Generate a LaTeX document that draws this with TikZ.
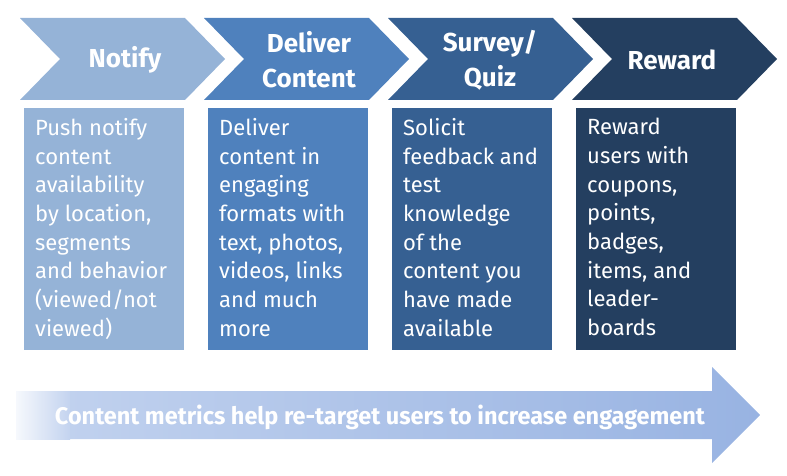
\documentclass[tikz,border=0pt]{standalone}
\usepackage{fontspec}
\setmainfont{Fira Sans}
\definecolor{cA}{HTML}{95B3D7}
\definecolor{cB}{HTML}{4F81BD}
\definecolor{cC}{HTML}{366092}
\definecolor{cD}{HTML}{243F60}
\definecolor{arL}{HTML}{C3D3EF}
\definecolor{arR}{HTML}{98B3E2}
\begin{document}
\begin{tikzpicture}[x=1pt,y=-1pt,
  head/.style={text=white,font=\bfseries\fontsize{26}{35}\selectfont,align=center,inner sep=0pt},
  body/.style={text=white,font=\fontsize{22}{28.7}\selectfont,align=left,anchor=north west,inner sep=0pt},
  chev/.style={fill=#1},
  boxfill/.style={fill=#1}]
\useasboundingbox (0,0) rectangle (787,476);
\foreach \i/\c in {0/cA,1/cB,2/cC,3/cD}{
  \pgfmathsetmacro\L{20+184*\i}
  \path[chev=\c] (\L,18) -- (\L+165,18) -- (\L+205,59) -- (\L+165,100) -- (\L,100) -- (\L+40,59) -- cycle;
  \path[boxfill=\c] (\L+4,108) rectangle (\L+164,350);
}
% headers
\node[head] (h1) at (125,60) {Notify};
\node[head] (h2) at (309,60) {Deliver\\Content};
\node[head] (h3) at (490,60) {Survey/\\Quiz};
\node[head] (h4) at (672,60) {Reward};
% bodies
\node[body] (b1) at (35,118) {Push notify\\content\\availability\\by location,\\segments\\and behavior\\(viewed/not\\viewed)};
\node[body] (b2) at (219,118) {Deliver\\content in\\engaging\\formats with\\text, photos,\\videos, links\\and much\\more};
\node[body] (b3) at (403,118) {Solicit\\feedback and\\test\\knowledge\\of the\\content you\\have made\\available};
\node[body] (b4) at (587,118) {Reward\\users with\\coupons,\\points,\\badges,\\items, and\\leader-\\boards};
% bottom arrow
\path[left color=arL,right color=arR] (16,391) -- (712,391) -- (712,367) -- (760,415) -- (712,463) -- (712,439) -- (16,439) -- cycle;
\path[left color=white!85!arL,right color=arL] (16,391) rectangle (70,439);
\node[text=white,font=\bfseries\fontsize{24}{30}\selectfont,inner sep=0pt,anchor=base] (bt) at (380,424) {\resizebox{650pt}{\height}{Content metrics help re-target users to increase engagement}};
\end{tikzpicture}
\end{document}
